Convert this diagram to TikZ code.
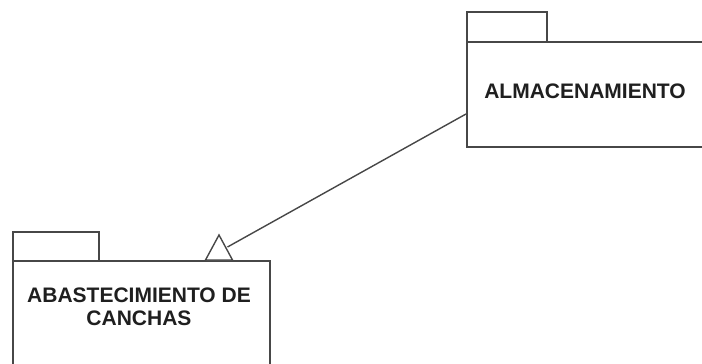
\documentclass[tikz,border=0pt]{standalone}
\usepackage{fontspec}
\setmainfont{Liberation Sans}
\begin{document}
\begin{tikzpicture}[x=1pt,y=-1pt,
  pkgline/.style={draw=black!72, line width=1.6pt},
  pkgtab/.style={pkgline, fill=white, inner sep=0pt, anchor=north west},
  pkgbody/.style={pkgline, fill=white, inner sep=0pt, anchor=north west},
  pkglabel/.style={font=\fontsize{21}{23}\selectfont\bfseries, text=black!88, align=center, inner sep=0pt},
  genline/.style={draw=black!72, line width=1.4pt},
  gentri/.style={draw=black!72, line width=1.4pt, fill=white, line join=miter}]
\useasboundingbox (0,0) rectangle (702,364);
\clip (0,0) rectangle (702,364);
% ALMACENAMIENTO package
\node[pkgtab, minimum width=80, minimum height=30] (almtab) at (466,11) {};
\node[pkgbody, minimum width=250, minimum height=105] (alm) at (466,41) {};
\node[pkglabel] (almtxt) at (585,91) {ALMACENAMIENTO};
% ABASTECIMIENTO DE CANCHAS package
\node[pkgtab, minimum width=86, minimum height=29] (abatab) at (12,231) {};
\node[pkgbody, minimum width=257, minimum height=120] (aba) at (12,260) {};
\node[pkglabel] (abatxt) at (139,307) {ABASTECIMIENTO DE\\CANCHAS};
% generalization arrow
\coordinate (tip) at (219,235);
\coordinate (bl) at (205.5,260);
\coordinate (br) at (232.5,260);
\coordinate (hit) at (227.5,247);
\coordinate (src) at (alm.west |- 0,114);
\draw[genline] (src) -- (hit);
\draw[gentri] (tip) -- (br) -- (bl) -- cycle;
\end{tikzpicture}
\end{document}
